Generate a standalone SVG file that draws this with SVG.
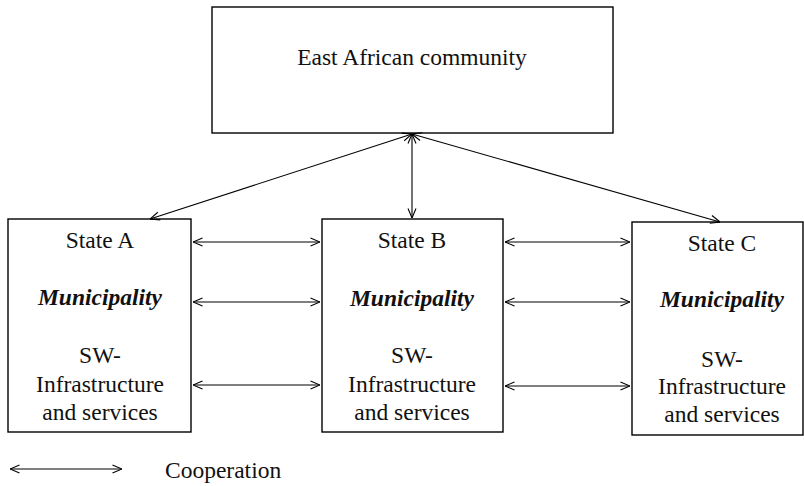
<svg xmlns="http://www.w3.org/2000/svg" width="804" height="486" viewBox="0 0 804 486">
  <defs>
    <marker id="head" viewBox="0 0 10 10" refX="10" refY="5" markerWidth="10" markerHeight="10" markerUnits="userSpaceOnUse" orient="auto-start-reverse">
      <path d="M0.5,1 L10,5 L0.5,9" fill="none" stroke="#000" stroke-width="1.1"/>
    </marker>
  </defs>
  <style>
    .box { fill: #fff; stroke: #000; stroke-width: 1.4; }
    .lbl { font-family: 'Liberation Serif', 'Times New Roman', Tinos, 'DejaVu Serif', serif; font-size: 23.5px; fill: #111; text-anchor: middle; }
    .em { font-weight: bold; font-style: italic; }
    .link { stroke: #000; stroke-width: 1.1; fill: none; marker-start: url(#head); marker-end: url(#head); }
  </style>
  <rect width="804" height="486" fill="#fff"/>

  <g id="eac">
    <rect class="box" x="212" y="7" width="401" height="126"/>
    <text class="lbl" x="412" y="65" font-family="Liberation Serif, serif">East African community</text>
  </g>

  <g id="state-a">
    <rect class="box" x="8" y="219" width="183" height="213"/>
    <text class="lbl" x="100" y="248">State A</text>
    <text class="lbl em" x="100" y="305">Municipality</text>
    <text class="lbl" x="100" y="363">SW-</text>
    <text class="lbl" x="100" y="392">Infrastructure</text>
    <text class="lbl" x="100" y="420">and services</text>
  </g>

  <g id="state-b">
    <rect class="box" x="322" y="219" width="181" height="213"/>
    <text class="lbl" x="412" y="248">State B</text>
    <text class="lbl em" x="412" y="306">Municipality</text>
    <text class="lbl" x="412" y="363">SW-</text>
    <text class="lbl" x="412" y="392">Infrastructure</text>
    <text class="lbl" x="412" y="420">and services</text>
  </g>

  <g id="state-c">
    <rect class="box" x="632" y="222" width="171" height="213"/>
    <text class="lbl" x="722" y="251">State C</text>
    <text class="lbl em" x="722" y="307">Municipality</text>
    <text class="lbl" x="722" y="367">SW-</text>
    <text class="lbl" x="722" y="394">Infrastructure</text>
    <text class="lbl" x="722" y="422">and services</text>
  </g>

  <g id="connectors">
    <line class="link" x1="412" y1="134" x2="150" y2="219"/>
    <line class="link" x1="412" y1="134" x2="412" y2="218"/>
    <line class="link" x1="412" y1="134" x2="720" y2="222"/>

    <line class="link" x1="193" y1="242" x2="320" y2="242"/>
    <line class="link" x1="193" y1="302" x2="320" y2="302"/>
    <line class="link" x1="193" y1="385" x2="320" y2="385"/>

    <line class="link" x1="505" y1="242" x2="630" y2="242"/>
    <line class="link" x1="505" y1="302" x2="630" y2="302"/>
    <line class="link" x1="505" y1="386" x2="630" y2="386"/>
  </g>

  <g id="legend">
    <line class="link" x1="10" y1="469" x2="122" y2="469"/>
    <text class="lbl" x="165" y="478" style="text-anchor: start">Cooperation</text>
  </g>
</svg>
